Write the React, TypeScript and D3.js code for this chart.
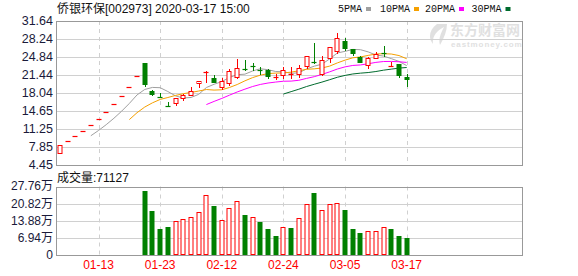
import React from "react";
import * as d3 from "d3";

const dates = [
  "01-06","01-07","01-08","01-09","01-10","01-13","01-14","01-15","01-16","01-17",
  "01-20","01-21","01-22","01-23","02-03","02-04","02-05","02-06","02-07","02-10",
  "02-11","02-12","02-13","02-14","02-17","02-18","02-19","02-20","02-21","02-24",
  "02-25","02-26","02-27","02-28","03-02","03-03","03-04","03-05","03-06","03-09",
  "03-10","03-11","03-12","03-13","03-16","03-17",
];
const opens = [
  6.80, 8.98, 9.88, 10.87, 11.96, 13.16, 14.48, 15.93, 17.52, 19.27,
  21.20, 23.75, 18.47, 17.30, 15.66, 16.15, 17.09, 17.58, 19.84, 22.05,
  20.86, 19.16, 19.91, 21.16, 22.65, 23.19, 22.35, 22.32, 21.10, 21.48,
  21.70, 21.72, 23.11, 23.87, 21.61, 24.62, 26.05, 27.88, 26.31, 24.81,
  23.36, 24.62, 25.52, 23.15, 23.55, 21.16,
];
const highs = [
  8.16, 8.98, 9.88, 10.87, 11.96, 13.16, 14.48, 15.93, 17.52, 19.27,
  21.20, 23.75, 18.65, 18.03, 16.26, 17.09, 17.90, 19.16, 20.22, 22.12,
  21.48, 20.82, 22.51, 24.39, 24.30, 23.68, 22.93, 22.55, 21.57, 22.93,
  22.93, 23.36, 25.00, 27.44, 24.99, 26.70, 29.32, 28.50, 26.31, 25.05,
  24.92, 25.86, 26.93, 23.87, 23.55, 21.66,
];
const lows = [
  6.80, 8.98, 9.88, 10.87, 11.96, 13.16, 14.48, 15.93, 17.52, 19.27,
  21.20, 19.45, 17.60, 17.28, 15.64, 15.83, 16.64, 17.58, 19.09, 20.20,
  20.15, 18.75, 19.60, 20.82, 22.32, 22.32, 21.57, 20.97, 20.72, 20.97,
  20.85, 21.16, 22.74, 23.70, 21.48, 23.98, 25.56, 26.13, 25.24, 23.98,
  22.74, 24.62, 25.11, 23.15, 21.04, 19.41,
];
const closes = [
  8.16, 8.98, 9.88, 10.87, 11.96, 13.16, 14.48, 15.93, 17.52, 19.27,
  21.20, 19.65, 17.84, 17.28, 15.64, 17.09, 17.66, 18.33, 20.22, 22.10,
  20.15, 20.22, 22.19, 22.85, 22.60, 23.17, 22.30, 21.29, 21.16, 22.36,
  21.72, 22.74, 24.99, 23.73, 24.24, 26.69, 28.38, 26.50, 25.56, 23.98,
  24.62, 25.43, 25.48, 23.17, 21.35, 20.67,
];
const volumes = [
  500, 300, 200, 200, 300, 300, 300, 400, 400, 500,
  800, 261400, 180500, 107600, 115700, 138800, 146900, 153800, 174000, 242800,
  199500, 142900, 191400, 219800, 163100, 153800, 134800, 106400, 78100, 114500,
  111700, 152200, 207600, 252100, 183300, 207600, 210400, 183300, 106400, 90200,
  98300, 98300, 114500, 106400, 78100, 71127,
];

const priceTicks = [4.45, 7.85, 11.25, 14.65, 18.04, 21.44, 24.84, 28.24, 31.64];
const priceTickLabels = ["4.45", "7.85", "11.25", "14.65", "18.04", "21.44", "24.84", "28.24", "31.64"];
const volumeTicks = [0, 69400, 138800, 208200, 277600];
const volumeTickLabels = ["0", "6.94万", "13.88万", "20.82万", "27.76万"];
const dateTicks = ["01-13", "01-23", "02-12", "02-24", "03-05", "03-17"];
const maPeriods = [5, 10, 20, 30];
const maNames = ["5PMA", "10PMA", "20PMA", "30PMA"];
const maColors = ["#a0a0a0", "#f5a000", "#ff00ff", "#006b2d"];

const RED = "#ff0000";
const GREEN = "#008000";
const GRID = "#d0d0d0";
const FRAME = "#999999";
const LABEL = "#1a1a3a";

export default function App() {
  const W = 578, H = 276;
  const left = 56, right = 522;
  const pTop = 21, pBottom = 165;
  const vTop = 186.5, vBottom = 255.3;

  const n = closes.length;
  const x = d3.scaleLinear().domain([0, n - 1]).range([60, 406.7]);
  const y = d3.scaleLinear().domain([4.45, 31.64]).range([pBottom, pTop]);
  const yv = d3.scaleLinear().domain([0, 277600]).range([vBottom, vTop]);

  const crisp = (v: number) => Math.round(v) + 0.5;
  const bodyW = 5;

  const maLines = maPeriods.map((p) => {
    const pts: [number, number][] = [];
    for (let i = p - 1; i < n; i++) {
      const m = d3.mean(closes.slice(i - p + 1, i + 1)) as number;
      pts.push([x(i), y(m)]);
    }
    return d3.line()(pts) as string;
  });

  const tickIdx = dateTicks.map((d) => dates.indexOf(d));

  const font = "'Liberation Sans', Arial, 'Noto Sans CJK SC', sans-serif";
  const mono = "'Liberation Mono', 'DejaVu Sans Mono', monospace";

  return (
    <div style={{ position: "absolute", left: 0, top: 0 }}>
      <svg width={W} height={H} style={{ display: "block", background: "#fff" }}>
        {/* title */}
        <text x={57} y={13} fontSize={12} fontFamily={font} fill="#111">
          侨银环保[002973] 2020-03-17 15:00
        </text>
        {/* legend */}
        {(() => {
          const xs = [338, 380, 425, 471.5];
          return maNames.map((nm, k) => (
            <g key={nm}>
              <text x={xs[k]} y={12} fontSize={10} fontFamily={mono} fill="#111">
                {nm}
              </text>
              <rect x={xs[k] + nm.length * 6 + 4} y={7} width={5} height={4} fill={maColors[k]} />
            </g>
          ));
        })()}

        {/* watermark */}
        <g opacity={0.55}>
          <path d="M437,24 C429,30 428,38 433,44 C432,37 436,31 444,27 C441,33 438,39 440,45 C444,38 447,31 447,24 Z" fill="#c8c8c8" />
          <text x={450} y={35} fontSize={14} fontWeight="bold" fontFamily="'Noto Sans CJK SC', sans-serif" fill="#c8c8c8">
            东方财富网
          </text>
          <text x={451} y={47} fontSize={8} fontWeight="bold" fontFamily={font} fill="#c8c8c8" letterSpacing={0.9}>
            eastmoney.com
          </text>
        </g>

        {/* price grid */}
        {priceTicks.map((t, k) => (
          <line key={"pg" + k} x1={left} x2={right} y1={crisp(y(t))} y2={crisp(y(t))} stroke={GRID} />
        ))}
        {tickIdx.map((i, k) => (
          <line key={"pv" + k} x1={crisp(x(i))} x2={crisp(x(i))} y1={pTop} y2={pBottom} stroke={GRID} strokeDasharray="4,4" />
        ))}
        {/* volume grid */}
        {volumeTicks.map((t, k) => (
          <line key={"vg" + k} x1={left} x2={right} y1={crisp(yv(t))} y2={crisp(yv(t))} stroke={GRID} />
        ))}
        {tickIdx.map((i, k) => (
          <line key={"vv" + k} x1={crisp(x(i))} x2={crisp(x(i))} y1={vTop} y2={vBottom} stroke={GRID} strokeDasharray="4,4" />
        ))}

        {/* frames */}
        <rect x={left + 0.5} y={pTop + 0.5} width={right - left} height={pBottom - pTop} fill="none" stroke={FRAME} />
        <rect x={left + 0.5} y={crisp(vTop)} width={right - left} height={Math.round(vBottom) - Math.round(vTop)} fill="none" stroke={FRAME} />

        {/* price labels */}
        {priceTicks.map((t, k) => (
          <text key={"pl" + k} x={53} y={y(t)} dy="0.32em" textAnchor="end" fontSize={12.5} fontFamily={font} fill={LABEL}>
            {priceTickLabels[k]}
          </text>
        ))}
        {/* volume labels */}
        {volumeTicks.map((t, k) => (
          <text key={"vl" + k} x={53} y={yv(t)} dy="0.32em" textAnchor="end" fontSize={12} fontFamily={font} fill={LABEL}>
            {volumeTickLabels[k]}
          </text>
        ))}
        {/* date labels */}
        {tickIdx.map((i, k) => (
          <text key={"dl" + k} x={x(i)} y={269} textAnchor="middle" fontSize={12} fontFamily={font} fill={RED}>
            {dateTicks[k]}
          </text>
        ))}
        <text x={57} y={181.5} fontSize={12} fontFamily={font} fill="#111">
          成交量:{volumes[n - 1]}
        </text>

        {/* MA lines */}
        {maLines.map((d, k) => (
          <path key={"ma" + k} d={d} fill="none" stroke={maColors[k]} strokeWidth={1} />
        ))}

        {/* candles */}
        {closes.map((c, i) => {
          const o = opens[i];
          const up = c >= o;
          const col = up ? RED : GREEN;
          const cx = crisp(x(i));
          const yo = y(o), yc = y(c);
          const top = Math.round(Math.min(yo, yc));
          const bot = Math.round(Math.max(yo, yc));
          const h = bot - top;
          const bx = Math.round(x(i)) - 2;
          return (
            <g key={"c" + i}>
              <line x1={cx} x2={cx} y1={Math.round(y(highs[i]))} y2={Math.round(y(lows[i])) + 1} stroke={col} />
              {h < 1.5 ? (
                <line x1={bx - 0.5} x2={bx + bodyW - 0.5} y1={top + 0.5} y2={top + 0.5} stroke={col} strokeWidth={1.2} />
              ) : up ? (
                <rect x={bx + 0.0} y={top + 0.5} width={bodyW - 1} height={h} fill="#fff" stroke={col} />
              ) : (
                <rect x={bx - 0.5} y={top} width={bodyW} height={h + 1} fill={col} />
              )}
            </g>
          );
        })}

        {/* volume bars */}
        {volumes.map((v, i) => {
          const rising = i === 0 ? true : closes[i] >= closes[i - 1];
          const bx = Math.round(x(i)) - 2;
          const top = Math.round(yv(v));
          const bot = Math.round(vBottom) - 1;
          const h = Math.max(0, bot - top);
          return rising ? (
            <rect key={"v" + i} x={bx} y={top + 0.5} width={bodyW - 1} height={h} fill="#fff" stroke={RED} />
          ) : (
            <rect key={"v" + i} x={bx - 0.5} y={top} width={bodyW} height={h + 1} fill={GREEN} />
          );
        })}
      </svg>
    </div>
  );
}
